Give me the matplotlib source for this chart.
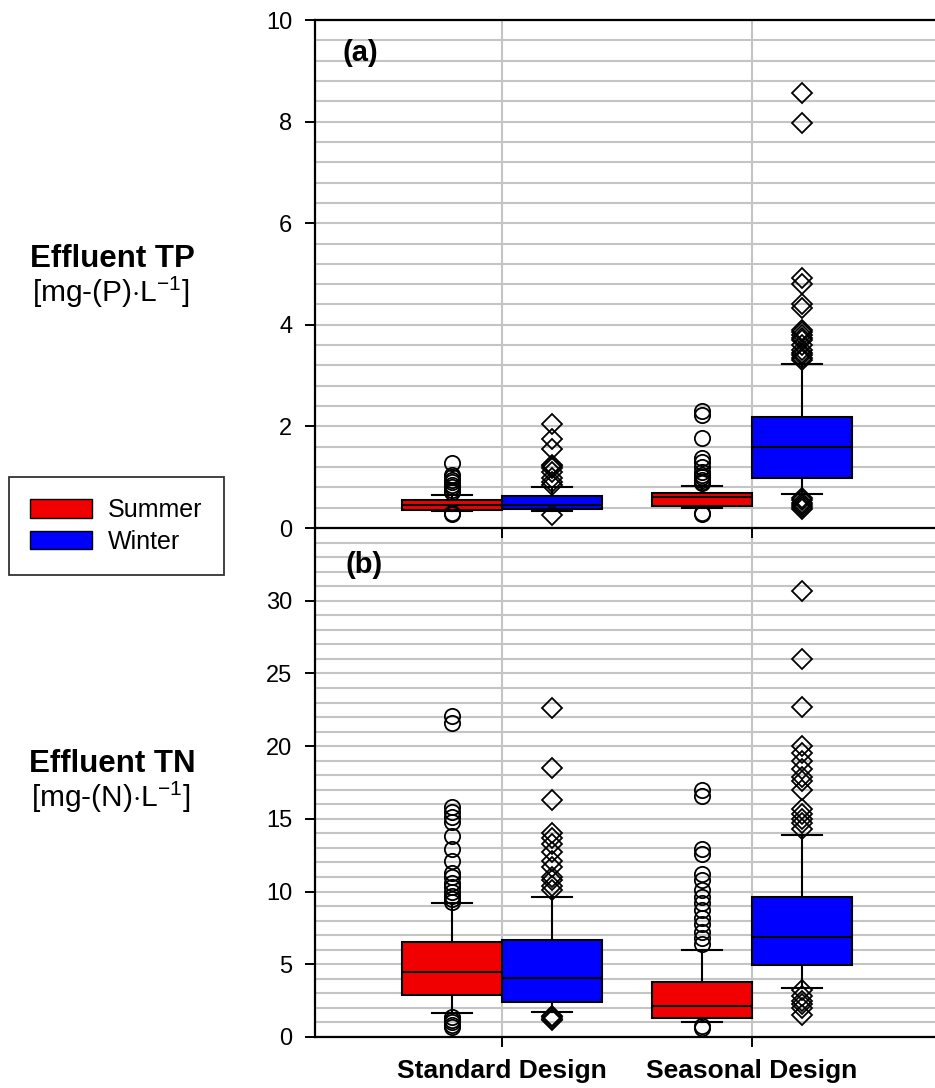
import matplotlib
matplotlib.use("Agg")
import matplotlib.pyplot as plt
from matplotlib.patches import Patch
from matplotlib.ticker import MultipleLocator

plt.rcParams['font.family'] = ['Liberation Sans', 'DejaVu Sans']
plt.rcParams['mathtext.fontset'] = 'custom'
plt.rcParams['mathtext.rm'] = 'Liberation Sans'

# ==========================
# Data
# ==========================
groups = ["Standard Design", "Seasonal Design"]
seasons = ["Summer", "Winter"]

# five-number summaries: [whislo, q1, med, q3, whishi] per group
tp_summer = [[0.33, 0.35, 0.45, 0.55, 0.65], [0.39, 0.43, 0.61, 0.69, 0.83]]
tp_winter = [[0.33, 0.37, 0.45, 0.63, 0.81], [0.67, 0.98, 1.59, 2.18, 3.23]]
tp_summer_out = [
    [1.27, 1.05, 1.0, 0.95, 0.9, 0.85, 0.8, 0.75, 0.7, 0.3, 0.28],
    [2.3, 2.22, 1.77, 1.38, 1.3, 1.2, 1.1, 1.05, 1.0, 0.95, 0.9, 0.88, 0.3, 0.27],
]
tp_winter_out = [
    [2.05, 1.75, 1.55, 1.25, 1.22, 1.18, 1.1, 0.98, 0.9, 0.85, 0.25],
    [8.56, 7.97, 4.92, 4.8, 4.4, 4.33, 3.9, 3.85, 3.8, 3.75, 3.7, 3.6, 3.5,
     3.45, 3.4, 3.35, 3.3, 0.6, 0.55, 0.5, 0.45, 0.42, 0.38],
]

tn_summer = [[1.64, 2.88, 4.45, 6.5, 9.18], [1.0, 1.3, 2.12, 3.77, 6.0]]
tn_winter = [[1.7, 2.4, 4.04, 6.64, 9.6], [3.4, 4.93, 6.9, 9.6, 13.9]]
tn_summer_out = [
    [22.1, 21.6, 15.8, 15.5, 15.1, 14.8, 13.8, 12.9, 12.1, 11.3, 11.0, 10.6,
     10.3, 10.0, 9.7, 9.5, 9.3, 1.4, 1.2, 1.0, 0.8, 0.7],
    [17.0, 16.6, 12.9, 12.6, 11.2, 10.8, 10.1, 9.6, 9.2, 8.7, 8.2, 7.8, 7.2,
     6.8, 6.4, 0.75, 0.65],
]
tn_winter_out = [
    [22.6, 18.5, 16.3, 14.0, 13.7, 13.3, 12.7, 12.1, 11.7, 11.0, 10.8, 10.4,
     10.1, 1.45, 1.35, 1.25, 1.15],
    [30.7, 26.0, 22.7, 20.0, 19.5, 19.0, 18.4, 17.9, 17.6, 17.0, 15.7, 15.3,
     15.0, 14.7, 14.3, 3.2, 2.8, 2.5, 2.3, 2.0, 1.5],
]

colors = {"Summer": "#f00000", "Winter": "#0000ff"}
markers = {"Summer": "o", "Winter": "D"}


def make_stats(summaries, outliers):
    stats = []
    for s, out in zip(summaries, outliers):
        stats.append(dict(whislo=s[0], q1=s[1], med=s[2], q3=s[3],
                          whishi=s[4], fliers=out))
    return stats


def draw_panel(ax, summer, winter, summer_out, winter_out):
    pos = [1, 2]
    for season, summ, out, shift in [("Summer", summer, summer_out, -0.2),
                                     ("Winter", winter, winter_out, 0.2)]:
        ms = 11 if season == "Summer" else 10.5
        ax.bxp(make_stats(summ, out),
               positions=[p + shift for p in pos],
               widths=0.4, patch_artist=True, manage_ticks=False,
               boxprops=dict(facecolor=colors[season], edgecolor="black",
                             linewidth=1.5),
               medianprops=dict(color="black", linewidth=1.5),
               whiskerprops=dict(color="black", linewidth=1.5),
               capprops=dict(color="black", linewidth=1.5),
               capwidths=0.16,
               flierprops=dict(marker=markers[season], markerfacecolor="none",
                               markeredgecolor="black", markersize=ms,
                               markeredgewidth=1.3, linestyle="none"))
    ax.set_xlim(0.252, 2.732)
    ax.set_xticks(pos)
    ax.set_xticklabels([])
    ax.grid(True, which="minor", axis="y", color="#c4c4c4", linewidth=1.5)
    ax.grid(True, which="major", axis="y", color="#c4c4c4", linewidth=1.5)
    ax.grid(True, which="major", axis="x", color="#c4c4c4", linewidth=1.5)
    ax.set_axisbelow(True)
    ax.spines["right"].set_visible(False)
    for sp in ["left", "bottom", "top"]:
        ax.spines[sp].set_linewidth(1.6)
    ax.tick_params(axis="y", which="major", direction="out", length=7.5,
                   width=1.4, labelsize=17, pad=9)
    ax.tick_params(axis="y", which="minor", length=0)
    ax.tick_params(axis="x", direction="out", length=7.5, width=1.4)


# ==========================
# Figure
# ==========================
fig = plt.figure(figsize=(9.35, 10.88), dpi=100)

ax_b = fig.add_axes([0.337, 0.0469, 0.663, 0.4678])
ax_a = fig.add_axes([0.337, 0.5147, 0.663, 0.4669])
ax_a.patch.set_alpha(0)

draw_panel(ax_a, tp_summer, tp_winter, tp_summer_out, tp_winter_out)
ax_a.set_ylim(0, 10)
ax_a.yaxis.set_major_locator(MultipleLocator(2))
ax_a.yaxis.set_minor_locator(MultipleLocator(0.4))

draw_panel(ax_b, tn_summer, tn_winter, tn_summer_out, tn_winter_out)
ax_b.set_ylim(0, 35)
ax_b.set_yticks([0, 5, 10, 15, 20, 25, 30])
ax_b.yaxis.set_minor_locator(MultipleLocator(1))
ax_b.spines["top"].set_visible(False)
ax_b.set_xticklabels(groups, fontsize=19, fontweight="bold")
ax_b.tick_params(axis="x", pad=8)

ax_a.text(0.0435, 0.935, "(a)", transform=ax_a.transAxes, fontsize=21,
          fontweight="bold", va="center", ha="left")
ax_b.text(0.0485, 0.927, "(b)", transform=ax_b.transAxes, fontsize=21,
          fontweight="bold", va="center", ha="left")

# left-hand labels
fig.text(112 / 935, 1 - 267 / 1088, "Effluent TP", fontsize=22.5,
         fontweight="bold", ha="center", va="baseline")
fig.text(111 / 935, 1 - 302 / 1088, r"[mg-(P)$\cdot$L$^{-1}$]", fontsize=21.5,
         ha="center", va="baseline")
fig.text(112 / 935, 1 - 772 / 1088, "Effluent TN", fontsize=22.5,
         fontweight="bold", ha="center", va="baseline")
fig.text(111 / 935, 1 - 807 / 1088, r"[mg-(N)$\cdot$L$^{-1}$]", fontsize=21.5,
         ha="center", va="baseline")

handles = [Patch(facecolor=colors[s], edgecolor="black", label=s)
           for s in seasons]
leg = fig.legend(handles=handles, loc="center",
                 bbox_to_anchor=(116.5 / 935, 1 - 526 / 1088),
                 fontsize=18, frameon=True, fancybox=False, edgecolor="black",
                 handlelength=2.45, handleheight=0.75, borderpad=0.85,
                 labelspacing=0.3, handletextpad=0.65, borderaxespad=0)
leg.get_frame().set_linewidth(1.3)

plt.savefig("out.png", dpi=100)
plt.close()
